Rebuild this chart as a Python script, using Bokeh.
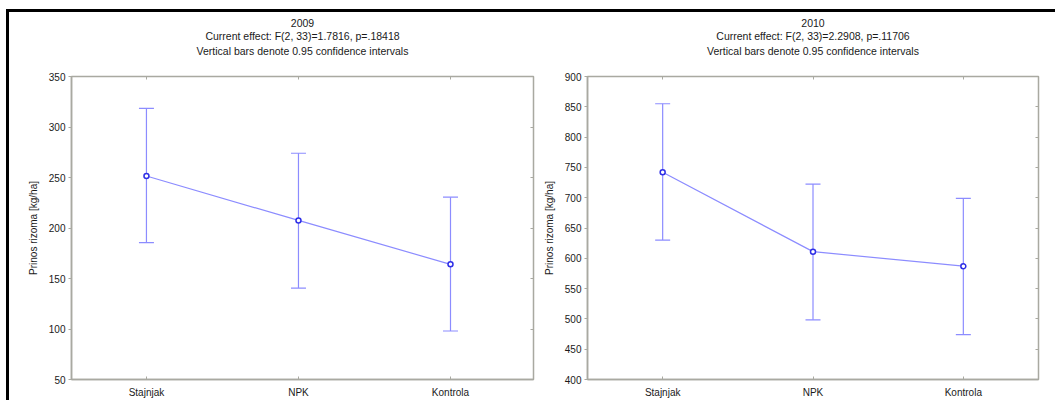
from bokeh.plotting import figure
from bokeh.models import Range1d, Whisker, ColumnDataSource, Title, FixedTicker, LinearAxis
from bokeh.layouts import row
from bokeh.embed import file_html
from bokeh.resources import INLINE

categories = ["Stajnjak", "NPK", "Kontrola"]
x_pos = [1, 2, 3]

years = ["2009", "2010"]
effects = ["Current effect: F(2, 33)=1.7816, p=.18418",
           "Current effect: F(2, 33)=2.2908, p=.11706"]
subtitle = "Vertical bars denote 0.95 confidence intervals"
y_label = "Prinos rizoma [kg/ha]"

mean_2009 = [251.5, 207.5, 164.0]
upper_2009 = [318.5, 274.0, 230.5]
lower_2009 = [185.5, 140.5, 98.0]

mean_2010 = [742.0, 611.0, 587.0]
upper_2010 = [855.0, 722.5, 699.0]
lower_2010 = [630.0, 498.5, 474.0]

y_ticks_2009 = [50, 100, 150, 200, 250, 300, 350]
y_ticks_2010 = [400, 450, 500, 550, 600, 650, 700, 750, 800, 850, 900]

FONT = "Liberation Sans"
LINE_C = "#8c8cff"
MARK_C = "#2f2fe6"
AXIS_C = "#a9a9a1"
TEXT_C = "#1a1a1a"


def mirror_axis(p, ticks, side):
    ax = LinearAxis(ticker=FixedTicker(ticks=ticks))
    ax.axis_line_color = None
    ax.major_tick_line_color = AXIS_C
    ax.minor_tick_line_color = None
    ax.major_tick_in = 3
    ax.major_tick_out = 0
    ax.major_label_standoff = 0
    ax.major_label_text_font_size = "0px"
    ax.major_label_text_color = None
    p.add_layout(ax, side)


def make_panel(year, effect, means, uppers, lowers, yticks, width, bl, br, xr, title_offset):
    p = figure(width=width, height=388, output_backend="svg", toolbar_location=None,
               x_range=Range1d(*xr), y_range=Range1d(yticks[0], yticks[-1]),
               min_border_left=bl, min_border_right=br, min_border_top=64,
               min_border_bottom=20)
    p.title = None
    mirror_axis(p, x_pos, "above")
    mirror_axis(p, yticks, "right")
    spacer = Title(text=" ", text_font=FONT, text_font_size="10.5px", standoff=5)
    p.add_layout(spacer, "above")
    for txt in [subtitle, effect, year]:
        t = Title(text=txt, align="center", text_font=FONT, text_font_size="10.5px",
                  text_font_style="normal", text_color=TEXT_C,
                  standoff=1, offset=title_offset)
        p.add_layout(t, "above")
    p.xgrid.visible = False
    p.ygrid.visible = False
    p.outline_line_color = AXIS_C
    p.outline_line_width = 1.5
    p.background_fill_color = "white"
    p.border_fill_color = "white"

    src = ColumnDataSource(dict(x=x_pos, m=means, u=uppers, l=lowers))
    w = Whisker(base="x", upper="u", lower="l", source=src,
                line_color=LINE_C, line_width=1.2)
    w.upper_head.size = 15
    w.lower_head.size = 15
    w.upper_head.line_color = LINE_C
    w.lower_head.line_color = LINE_C
    w.upper_head.line_width = 1.2
    w.lower_head.line_width = 1.2
    p.add_layout(w)
    p.line("x", "m", source=src, line_color=LINE_C, line_width=1.2)
    p.scatter("x", "m", source=src, size=5, fill_color="white", line_color=MARK_C,
              line_width=1.5)

    xa = p.below[0]
    ya = p.left[0]
    xa.ticker = FixedTicker(ticks=x_pos)
    xa.major_label_overrides = {x: c for x, c in zip(x_pos, categories)}
    ya.ticker = FixedTicker(ticks=yticks)
    for ax in (xa, ya):
        ax.axis_line_color = AXIS_C
        ax.axis_line_width = 1.5
        ax.major_tick_line_color = AXIS_C
        ax.minor_tick_line_color = None
        ax.major_label_text_font = FONT
        ax.major_label_text_font_size = "10px"
        ax.major_label_text_color = TEXT_C
    xa.major_tick_in = 3
    xa.major_tick_out = 0
    xa.major_label_standoff = 7
    ya.major_tick_in = 0
    ya.major_tick_out = 3
    ya.major_label_standoff = 3
    ya.axis_label = y_label
    ya.axis_label_text_font = FONT
    ya.axis_label_text_font_size = "10px"
    ya.axis_label_text_font_style = "normal"
    ya.axis_label_text_color = TEXT_C
    ya.axis_label_standoff = 7
    return p


p1 = make_panel(years[0], effects[0], mean_2009, upper_2009, lower_2009, y_ticks_2009,
                531, 62, 7, (0.507, 3.546), -27)
p2 = make_panel(years[1], effects[1], mean_2010, upper_2010, lower_2010, y_ticks_2010,
                515, 43, 17, (0.5, 3.5), 0)

layout = row(p1, p2, margin=(9, 0, 0, 6),
             styles={"border-left": "3px solid black",
                     "border-top": "3px solid black"})

open("out.html", "w").write(file_html(layout, INLINE))
